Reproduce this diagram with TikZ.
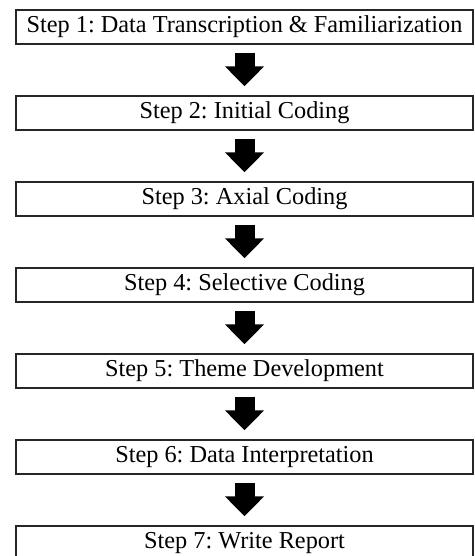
\documentclass[tikz,border=0pt]{standalone}
\usepackage{fontspec}
\setmainfont{Liberation Serif}
\usetikzlibrary{arrows.meta,positioning}
\frenchspacing

\begin{document}
\begin{tikzpicture}[
    x=1pt, y=1pt,
    node distance=86pt,
    block/.style={rectangle, draw=black!85, line width=1.4pt, minimum height=34pt, minimum width=457pt, inner sep=0pt, font=\fontsize{24.3}{26}\selectfont},
    arrow/.style={line width=20pt, -{Triangle[length=20pt, width=38pt]}, shorten <=8pt, shorten >=9pt}
]
\useasboundingbox (0,0) rectangle (474,-556);
\node[block] (step1) at (244.5,-27) {Step 1: Data Transcription \& Familiarization};
\node[block, below of=step1] (step2) {Step 2: Initial Coding};
\node[block, below of=step2] (step3) {Step 3: Axial Coding};
\node[block, below of=step3] (step4) {Step 4: Selective Coding};
\node[block, below of=step4] (step5) {Step 5: Theme Development};
\node[block, below of=step5] (step6) {Step 6: Data Interpretation};
\node[block, below of=step6] (step7) {Step 7: Write Report};

\draw[arrow] (step1) -- (step2);
\draw[arrow] (step2) -- (step3);
\draw[arrow] (step3) -- (step4);
\draw[arrow] (step4) -- (step5);
\draw[arrow] (step5) -- (step6);
\draw[arrow] (step6) -- (step7);
\end{tikzpicture}
\end{document}
